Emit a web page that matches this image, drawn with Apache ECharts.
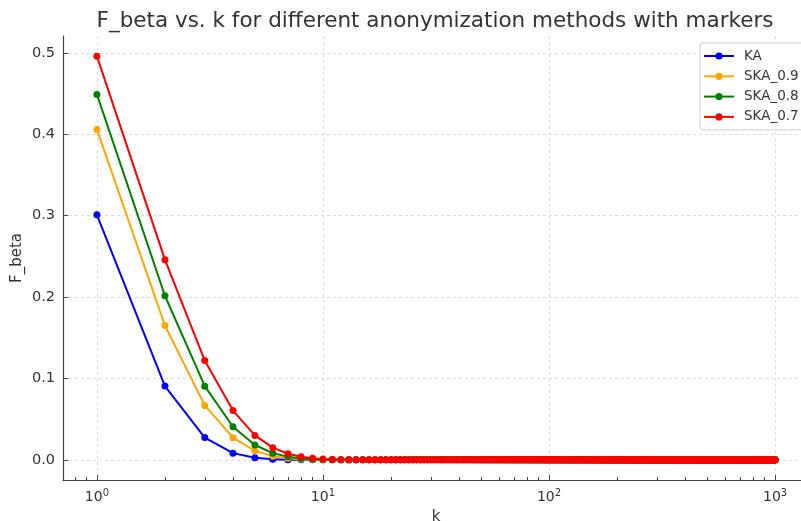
<!DOCTYPE html>
<html>
<head>
<meta charset="utf-8">
<script src="https://cdn.jsdelivr.net/npm/echarts@6/dist/echarts.min.js"></script>
<style>
html,body{margin:0;padding:0;background:#fff;}
#chart{width:801px;height:521px;}
</style>
</head>
<body>
<div id="chart"></div>
<script>
// ---- data ----
const K_FIRST = 1;
const K_LAST = 1000;
const SERIES_NAMES = ['KA', 'SKA_0.9', 'SKA_0.8', 'SKA_0.7'];
// leading values for k = 1, 2, 3, ...
const KA_HEAD    = [0.301, 0.0906, 0.0273, 0.0082, 0.0025, 0.00074, 0.00022, 0.00007];
const SKA09_HEAD = [0.406, 0.165, 0.0669, 0.0272, 0.0110, 0.0045, 0.0018, 0.00074, 0.0003, 0.00012];
const SKA08_HEAD = [0.449, 0.2016, 0.0905, 0.0406, 0.0182, 0.0082, 0.0037, 0.00165, 0.00074, 0.00033, 0.00015];
const SKA07_HEAD = [0.496, 0.246, 0.122, 0.0605, 0.030, 0.0149, 0.0074, 0.0037, 0.0018, 0.0009, 0.00044, 0.00022, 0.00011];
// every later k reads as 0.0 on the chart
const TAIL_VALUE = 0;
const X_MINOR_TICKS = [0.8, 0.9, 2, 3, 4, 5, 6, 7, 8, 9, 20, 30, 40, 50, 60, 70, 80, 90, 200, 300, 400, 500, 600, 700, 800, 900];
const COLORS = ['#0000ff', '#ffa500', '#008000', '#ff0000'];

const kValues = [];
for (let k = K_FIRST; k <= K_LAST; k++) kValues.push(k);

function buildSeries(head) {
  return kValues.map((k, i) => [k, i < head.length ? head[i] : TAIL_VALUE]);
}
const HEADS = [KA_HEAD, SKA09_HEAD, SKA08_HEAD, SKA07_HEAD];

const FONT = 'DejaVu Sans';
const AXIS_COLOR = '#444';
const chart = echarts.init(document.getElementById('chart'), null, {renderer: 'canvas'});
const option = {
  animation: false,
  backgroundColor: '#ffffff',
  textStyle: {fontFamily: FONT},
  title: {
    text: 'F_beta vs. k for different anonymization methods with markers',
    left: 430, textAlign: 'center', top: 5,
    textStyle: {fontFamily: FONT, fontSize: 21.5, fontWeight: 'normal', color: '#333'}
  },
  legend: {
    orient: 'vertical', left: 700, top: 43,
    padding: [6, 12, 6, 3], itemGap: 6.3, itemWidth: 30, itemHeight: 9,
    backgroundColor: '#fff', borderColor: '#ccc', borderWidth: 1, borderRadius: 3,
    textStyle: {fontFamily: FONT, fontSize: 13.5, color: '#333', padding: [0, 0, 0, 5]},
    data: SERIES_NAMES
  },
  grid: {left: 63, top: 36, width: 746, height: 444, containLabel: false, outerBoundsMode: 'none'},
  xAxis: [{
    type: 'log', logBase: 10, min: 0.708, max: 1413,
    name: 'k', nameLocation: 'middle', nameGap: 30, nameMoveOverlap: false,
    nameTextStyle: {fontFamily: FONT, fontSize: 15, color: '#333'},
    axisLine: {show: true, onZero: false, lineStyle: {color: AXIS_COLOR, width: 1.2}},
    axisTick: {show: true, inside: true, length: 5, lineStyle: {color: AXIS_COLOR}},
    axisLabel: {
      showMinLabel: false, showMaxLabel: false, margin: 8, color: '#333',
      formatter: v => '{b|10}{s|' + Math.round(Math.log10(v)) + '}',
      rich: {
        b: {fontFamily: FONT, fontSize: 14, color: '#333'},
        s: {fontFamily: FONT, fontSize: 10, color: '#333', verticalAlign: 'top', padding: [0, 0, 8, 0]}
      }
    },
    splitLine: {show: true, showMinLine: false, showMaxLine: false, lineStyle: {color: '#d4d4d4', type: [3, 3], width: 0.8}}
  }, {
    type: 'log', logBase: 10, min: 0.708, max: 1413, position: 'bottom', gridIndex: 0,
    axisLine: {show: false, onZero: false},
    axisTick: {show: true, inside: true, length: 3, customValues: X_MINOR_TICKS, lineStyle: {color: AXIS_COLOR}},
    axisLabel: {show: false},
    splitLine: {show: false}
  }],
  yAxis: {
    type: 'value', min: -0.0248, max: 0.5208, splitNumber: 5,
    name: 'F_beta', nameLocation: 'middle', nameGap: 38, nameRotate: 90, nameMoveOverlap: false,
    nameTextStyle: {fontFamily: FONT, fontSize: 15, color: '#333'},
    axisLine: {show: true, onZero: false, lineStyle: {color: AXIS_COLOR, width: 1.2}},
    axisTick: {show: true, inside: true, length: 5, lineStyle: {color: AXIS_COLOR}},
    axisLabel: {showMinLabel: false, showMaxLabel: false, fontFamily: FONT, fontSize: 14.5, color: '#333', margin: 8,
      formatter: v => v.toFixed(1)},
    splitLine: {show: true, showMinLine: false, showMaxLine: false, lineStyle: {color: '#d4d4d4', type: [3, 3], width: 0.8}}
  },
  series: SERIES_NAMES.map((name, i) => ({
    name: name, type: 'line', xAxisIndex: 0,
    data: buildSeries(HEADS[i]),
    symbol: 'circle', symbolSize: 7, showSymbol: true,
    color: COLORS[i],
    lineStyle: {width: 2, color: COLORS[i]},
    itemStyle: {color: COLORS[i]},
    emphasis: {disabled: true}
  }))
};
chart.setOption(option);
</script>
</body>
</html>
